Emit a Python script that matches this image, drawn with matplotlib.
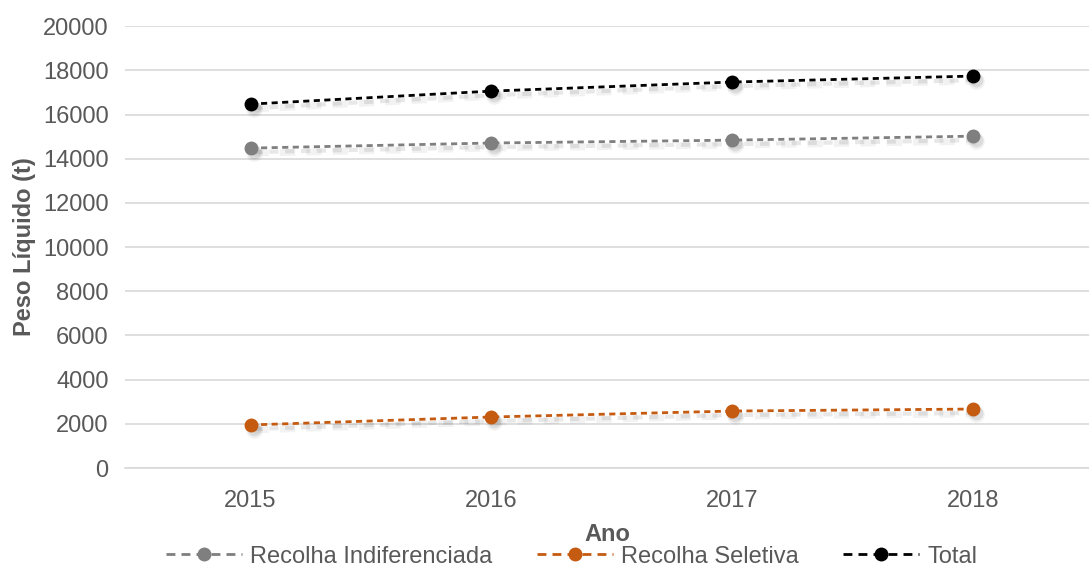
import matplotlib
matplotlib.use('Agg')
import matplotlib.pyplot as plt
from matplotlib.lines import Line2D
from matplotlib.transforms import offset_copy

plt.rcParams['font.family'] = ['Liberation Sans', 'DejaVu Sans']

# Dados
anos = ['2015', '2016', '2017', '2018']
indiferenciada = [14480, 14710, 14840, 15020]
seletiva = [1950, 2310, 2580, 2670]
total = [16470, 17060, 17470, 17740]

series = [
    ('Recolha Indiferenciada', indiferenciada, '#7f7f7f'),
    ('Recolha Seletiva', seletiva, '#C55A11'),
    ('Total', total, '#000000'),
]

fig = plt.figure(figsize=(10.89, 5.68), dpi=100)
ax = fig.add_axes([0.115, 0.176, 0.885, 0.778])

x = list(range(len(anos)))
estilo = (0, (2.2, 1.6))

# sombra suave por baixo das linhas
for nome, valores, cor in series:
    for dx, dy, lw, ms, a in [(3, -5, 5, 12, 0.05), (3, -4, 3, 10, 0.09)]:
        tr = offset_copy(ax.transData, fig=fig, x=dx, y=dy, units='dots')
        ax.plot(x, valores, transform=tr, color='black', alpha=a, linewidth=lw,
                linestyle=estilo, marker='o', markersize=ms, markeredgewidth=0,
                zorder=1)

handles = []
for nome, valores, cor in series:
    ax.plot(x, valores, linestyle=estilo, color=cor, linewidth=2,
            marker='o', markersize=9, zorder=3)
    handles.append(Line2D([], [], linestyle=(0, (3.2, 2.2)), color=cor, linewidth=2,
                          marker='o', markersize=9, label=nome))

ax.set_xlim(-0.52, 3.48)
ax.set_ylim(0, 20000)
ax.set_yticks(range(0, 20001, 2000))
ax.set_xticks(x)
ax.set_xticklabels(anos)
ax.grid(axis='y', color='#d9d9d9', linewidth=1.2)
ax.set_axisbelow(True)
for s in ['top', 'right', 'left']:
    ax.spines[s].set_visible(False)
ax.spines['bottom'].set_color('#d9d9d9')
ax.spines['bottom'].set_linewidth(1.2)
ax.tick_params(axis='y', length=0, labelsize=17, colors='#595959', pad=12)
ax.tick_params(axis='x', length=0, labelsize=17, colors='#595959', pad=16)

ax.set_ylabel('Peso Líquido (t)', fontsize=17, fontweight='bold', color='#595959', labelpad=5)
ax.set_xlabel('Ano', fontsize=17, fontweight='bold', color='#595959', labelpad=8)

fig.legend(handles=handles, loc='center', bbox_to_anchor=(0.525, 0.02), ncol=3,
           frameon=False, fontsize=17, labelcolor='#595959', handlelength=3.2,
           columnspacing=1.9, handletextpad=0.35, borderpad=0, borderaxespad=0)

plt.savefig('out.png', dpi=100)
